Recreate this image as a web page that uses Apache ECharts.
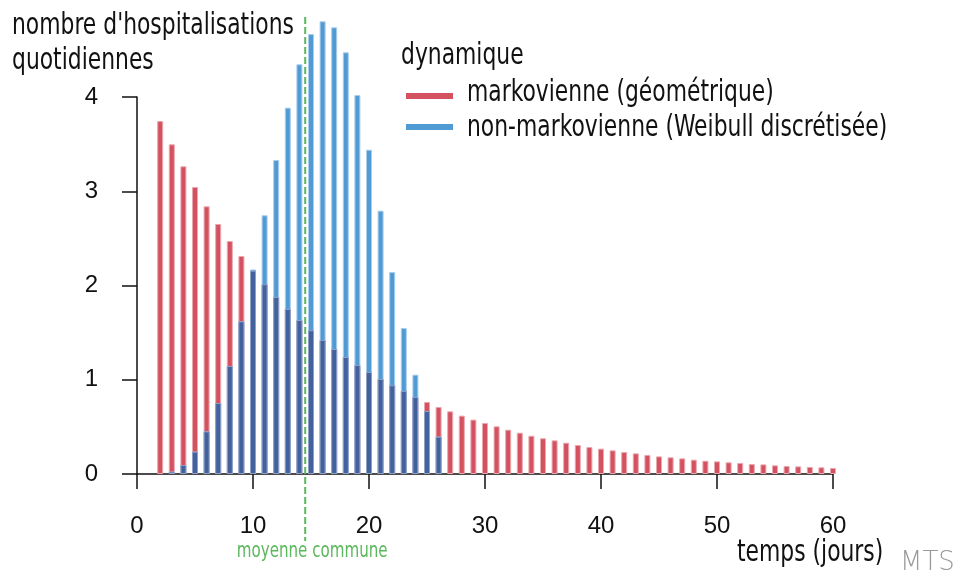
<!DOCTYPE html>
<html>
<head>
<meta charset="utf-8">
<script src="https://cdn.jsdelivr.net/npm/echarts@6/dist/echarts.min.js"></script>
<style>
html,body{margin:0;padding:0;background:#fff;}
#chart{width:957px;height:575px;}
</style>
</head>
<body>
<div id="chart"></div>
<script>
// ---- data ----
const redDays = [2,3,4,5,6,7,8,9,10,11,12,13,14,15,16,17,18,19,20,21,22,23,24,25,26,27,28,29,30,31,32,33,34,35,36,37,38,39,40,41,42,43,44,45,46,47,48,49,50,51,52,53,54,55,56,57,58,59,60];
const redValues = [3.745,3.498,3.265,3.045,2.84,2.653,2.472,2.313,2.157,2.013,1.878,1.751,1.634,1.525,1.422,1.326,1.241,1.156,1.082,1.008,0.941,0.881,0.817,0.764,0.711,0.665,0.619,0.577,0.541,0.506,0.47,0.438,0.406,0.379,0.357,0.332,0.308,0.286,0.269,0.251,0.233,0.219,0.202,0.187,0.177,0.166,0.152,0.141,0.134,0.124,0.117,0.106,0.102,0.092,0.085,0.081,0.074,0.071,0.064];
const blueDays = [3,4,5,6,7,8,9,10,11,12,13,14,15,16,17,18,19,20,21,22,23,24,25,26];
const blueValues = [0.025,0.095,0.237,0.452,0.753,1.146,1.62,2.17,2.745,3.332,3.887,4.347,4.668,4.803,4.739,4.474,4.021,3.441,2.794,2.143,1.549,1.054,0.668,0.396];
const meanDay = 14.5;
const xTicks = [0,10,20,30,40,50,60];
const yTicks = [0,1,2,3,4];
const seriesNames = ['markovienne (géométrique)', 'non-markovienne (Weibull discrétisée)'];
const legendTitle = 'dynamique';
const yTitle = "nombre d'hospitalisations\nquotidiennes";
const xTitle = 'temps (jours)';
const meanLabel = 'moyenne commune';

// ---- build series data ----
const redData = redDays.map((d,i)=>[d, redValues[i]]);
const blueData = blueDays.map((d,i)=>[d, blueValues[i]]);
const overlapData = [];
blueDays.forEach((d,i)=>{
  const j = redDays.indexOf(d);
  if (j >= 0) overlapData.push([d, Math.min(redValues[j], blueValues[i])]);
});

const COND = "'DejaVu Sans Condensed','DejaVu Sans',sans-serif";
const SX = 0.81;
const RED = '#d4515f', BLUE = '#519bd4', NAVY = '#42629e', GREEN = '#5bb85d';
const chart = echarts.init(document.getElementById('chart'), null, {renderer:'canvas'});

const barCommon = {type:'bar', barWidth:6, barGap:'-100%', clip:false, animation:false};

chart.setOption({
  animation:false,
  backgroundColor:'#fff',
  grid:{left:137, right:124, top:97, bottom:101, containLabel:false},
  xAxis:{
    type:'value', min:xTicks[0], max:xTicks[xTicks.length-1], interval:10,
    offset:18,
    splitLine:{show:false},
    axisLine:{show:true, lineStyle:{color:'#111', width:1.5}},
    axisTick:{show:true, length:15, lineStyle:{color:'#111', width:1.5}},
    axisLabel:{color:'#111', fontSize:24, fontFamily:"'Liberation Sans',Arial,sans-serif", margin:22}
  },
  yAxis:{
    type:'value', min:yTicks[0], max:yTicks[yTicks.length-1], interval:1,
    offset:15,
    splitLine:{show:false},
    axisLine:{show:true, lineStyle:{color:'#111', width:1.5}},
    axisTick:{show:true, length:15, lineStyle:{color:'#111', width:1.5}},
    axisLabel:{color:'#111', fontSize:24, fontFamily:"'Liberation Sans',Arial,sans-serif", margin:24}
  },
  series:[
    Object.assign({}, barCommon, {name:seriesNames[0], data:redData,
      itemStyle:{color:RED, borderColor:'#eaa7ae', borderWidth:1}}),
    Object.assign({}, barCommon, {name:seriesNames[1], data:blueData,
      itemStyle:{color:BLUE, borderColor:'#a9cdec', borderWidth:1}}),
    Object.assign({}, barCommon, {name:'overlap', data:overlapData,
      itemStyle:{color:NAVY, borderColor:'#8f9fc6', borderWidth:1}})
  ]
});

const mx = chart.convertToPixel({xAxisIndex:0}, meanDay);
function txt(text, x, y, size, color, align, sx){
  return {type:'text', x:x, y:y, scaleX:sx||SX, z:100,
    style:{text:text, fill:color, font:size+"px "+COND, textAlign:align||'left', textVerticalAlign:'middle'}};
}
chart.setOption({
  graphic:[
    {type:'line', z:100, shape:{x1:mx, y1:17, x2:mx, y2:541},
      style:{stroke:GREEN, lineWidth:2, lineDash:[7,3]}},
    txt(meanLabel, mx+7, 552, 21, GREEN, 'center', 0.8),
    {type:'text', x:12, y:9, scaleX:SX,
      style:{text:yTitle, fill:'#111', font:"30px "+COND, lineHeight:35, textAlign:'left', textVerticalAlign:'top'}},
    txt(legendTitle, 401, 56, 30, '#111'),
    {type:'rect', shape:{x:406, y:93, width:47, height:6}, style:{fill:RED}},
    {type:'rect', shape:{x:406, y:124, width:47, height:6}, style:{fill:BLUE}},
    txt(seriesNames[0], 467, 93, 30, '#111'),
    txt(seriesNames[1], 467, 128, 30, '#111'),
    txt(xTitle, 737, 553, 30, '#111'),
    {type:'text', x:900, y:563,
      style:{text:'MTS', fill:'#9a9a9a', font:"200 26px 'DejaVu Sans',sans-serif", textAlign:'left', textVerticalAlign:'middle'}}
  ]
});
</script>
</body>
</html>
